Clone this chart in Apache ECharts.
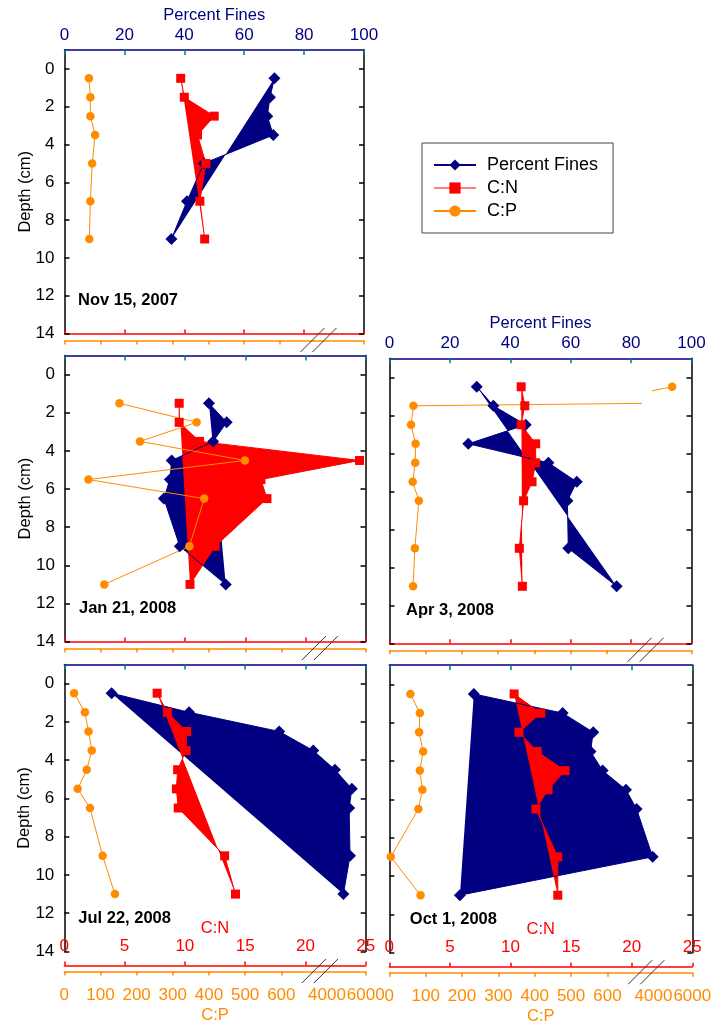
<!DOCTYPE html>
<html>
<head>
<meta charset="utf-8">
<title>Depth profiles: Percent Fines, C:N, C:P</title>
<script src="https://cdn.jsdelivr.net/npm/echarts@6/dist/echarts.min.js"></script>
<style>
  html, body { margin: 0; padding: 0; background: #fff; }
  #chart { width: 713px; height: 1026px; }
</style>
</head>
<body>
<div id="chart"></div>
<script>
// sample depths (cm)
const depthNov = [0.5, 1.5, 2.5, 3.5, 5, 7, 9];
const depthJan = [1.5, 2.5, 3.5, 4.5, 5.5, 6.5, 9, 11];
const depthStd = [0.5, 1.5, 2.5, 3.5, 4.5, 5.5, 6.5, 9, 11];

// Nov 15, 2007
const finesNov = [70.1, 68.6, 67.7, 69.7, 46.5, 40.9, 35.7];
const cnNov = [9.7, 10.0, 12.5, 11.1, 11.8, 11.3, 11.7];
const cpNov = [68, 72, 72, 85, 77, 72, 69];

// Jan 21, 2008
const finesJan = [47.9, 53.8, 49.3, 35.5, 34.9, 32.9, 38.2, 53.5];
const cnJan = [9.5, 9.5, 11.2, 24.5, 16.3, 16.8, 12.5, 10.4];
const cpJan = [151, 365, 208, 499, 65, 386, 345, 109];

// Apr 3, 2008
const finesApr = [28.9, 34.4, 45.1, 26.1, 52.6, 62.0, 58.9, 59.2, 75.2];
const cnApr = [10.9, 11.2, 10.9, 12.1, 12.1, 11.8, 11.1, 10.75, 11.0];
const cpApr = [5000, 66, 59.5, 72, 71, 64, 81, 70, 65];

// Jul 22, 2008
const finesJul = [15.7, 41.4, 71.3, 82.6, 89.8, 95.4, 94.5, 94.8, 92.6];
const cnJul = [7.7, 8.55, 10.15, 10.1, 9.4, 9.3, 9.45, 13.3, 14.2];
const cpJul = [27, 57, 67, 76, 62, 37, 71, 106, 140];

// Oct 1, 2008
const finesOct = [27.9, 57.2, 67.3, 66.4, 70.4, 78.1, 81.6, 86.9, 23.3];
const cnOct = [10.3, 12.5, 10.7, 12.2, 14.5, 13.1, 12.1, 13.9, 13.9];
const cpOct = [58, 84, 82, 93, 84, 91, 80, 4, 86];

// tick values
const depthTicks = [0, 2, 4, 6, 8, 10, 12, 14];
const cpLowTicks = [0, 100, 200, 300, 400, 500, 600];
const cpHighLabels = [4000, 6000];
const cpHighTicks = [6000];

const NAVY = '#000080';
const RED = '#ff0000';
const ORANGE = '#ff8c00';
const TEAL = '#008080';
const FONT = 'Liberation Sans, Arial, sans-serif';

// C:P axis is broken: 0..CP_LOW_MAX on the left part, 4000..6000 on the right part
const CP_LOW_MAX = 694;
const CP_LOW_FRAC = 0.0012 * CP_LOW_MAX; // 100 units = 12% of panel width
const CP_HIGH_START = 0.8717;

const panels = [
  { label: 'Nov 15, 2007', depth: depthNov, fines: finesNov, cn: cnNov, cp: cpNov,
    box: [64.5, 50, 299.5, 283.5], labelX: 13.5, top: true, left: true, bottom: false },
  { label: 'Jan 21, 2008', depth: depthJan, fines: finesJan, cn: cnJan, cp: cpJan,
    box: [65, 355.6, 300.5, 286], labelX: 14, top: false, left: true, bottom: false },
  { label: 'Apr 3, 2008', depth: depthStd, fines: finesApr, cn: cnApr, cp: cpApr,
    box: [389.5, 358.3, 302, 285], labelX: 16.5, top: true, left: false, bottom: false },
  { label: 'Jul 22, 2008', depth: depthStd, fines: finesJul, cn: cnJul, cp: cpJul,
    box: [64.3, 664.5, 301.4, 287], labelX: 14, top: false, left: true, bottom: true },
  { label: 'Oct 1, 2008', depth: depthStd, fines: finesOct, cn: cnOct, cp: cpOct,
    box: [389.3, 665.2, 303, 287.5], labelX: 20.5, top: false, left: false, bottom: true },
];

const grids = [];
const xAxes = [];
const yAxes = [];
const series = [];
const graphics = [];

const plainNumber = (v) => String(v);

function polygonSeries(name, xi, yi, pts, color) {
  return {
    type: 'custom',
    name,
    xAxisIndex: xi,
    yAxisIndex: yi,
    data: pts,
    silent: true,
    renderItem(params, api) {
      if (params.dataIndex !== 0) return null;
      return {
        type: 'polygon',
        shape: { points: pts.map((pt) => api.coord(pt)) },
        style: { fill: color },
      };
    },
  };
}

function lineSeries(name, xi, yi, pts, color, symbol, size) {
  return {
    type: 'line',
    name,
    xAxisIndex: xi,
    yAxisIndex: yi,
    data: pts,
    symbol,
    symbolSize: size,
    showAllSymbol: true,
    clip: true,
    silent: true,
    lineStyle: { color, width: 1 },
    itemStyle: { color },
  };
}

panels.forEach((p) => {
  const [left, top, w, h] = p.box;
  const g = grids.length;
  const redOff = p.bottom ? 14 : 0;
  const orangeOff = p.bottom ? 20 : 7;

  grids.push({ left, top, width: w, height: h, outerBoundsMode: 'none' });
  grids.push({ left, top, width: w * CP_LOW_FRAC, height: h, outerBoundsMode: 'none' });
  grids.push({ left: left + w * CP_HIGH_START, top, width: w * (1 - CP_HIGH_START), height: h, outerBoundsMode: 'none' });

  // depth axes
  const y0 = yAxes.length;
  const yBase = { type: 'value', min: -1, max: 14, inverse: true, splitLine: { show: false } };
  const blackLine = { show: true, onZero: false, lineStyle: { color: '#000', width: 1.5 } };
  const blackTicks = { show: true, inside: true, length: 5, customValues: depthTicks, lineStyle: { color: '#000', width: 1.5 } };
  yAxes.push({
    ...yBase,
    gridIndex: g,
    position: 'left',
    axisLine: blackLine,
    axisTick: blackTicks,
    axisLabel: { show: p.left, customValues: depthTicks, fontSize: 17, color: '#000', margin: 10 },
    name: p.left ? 'Depth (cm)' : '',
    nameLocation: 'middle',
    nameRotate: 90,
    nameGap: 31,
    nameMoveOverlap: false,
    nameTextStyle: { fontSize: 16.5, color: '#000' },
  });
  yAxes.push({
    ...yBase,
    gridIndex: g,
    position: 'right',
    axisLine: blackLine,
    axisTick: blackTicks,
    axisLabel: { show: false },
  });
  yAxes.push({ ...yBase, gridIndex: g + 1, show: false });
  yAxes.push({ ...yBase, gridIndex: g + 2, show: false });

  // Percent Fines (top)
  const xPF = xAxes.length;
  xAxes.push({
    type: 'value',
    gridIndex: g,
    position: 'top',
    min: 0,
    max: 100,
    interval: 20,
    splitLine: { show: false },
    axisLine: { show: true, onZero: false, lineStyle: { color: NAVY, width: 1.5 } },
    axisTick: { show: true, inside: true, length: 5, lineStyle: { color: TEAL, width: 1.5 } },
    axisLabel: { show: p.top, color: NAVY, fontSize: 17, margin: 6 },
    name: p.top ? 'Percent Fines' : '',
    nameLocation: 'middle',
    nameGap: 26,
    nameMoveOverlap: false,
    nameTextStyle: { color: NAVY, fontSize: 16.5 },
  });
  // C:N (bottom)
  const xCN = xAxes.length;
  xAxes.push({
    type: 'value',
    gridIndex: g,
    position: 'bottom',
    offset: redOff,
    min: 0,
    max: 25,
    interval: 5,
    splitLine: { show: false },
    axisLine: { show: true, onZero: false, lineStyle: { color: RED, width: 1.5 } },
    axisTick: { show: true, inside: true, length: 4, lineStyle: { color: RED, width: 1.5 } },
    axisLabel: { show: p.bottom, inside: true, color: RED, fontSize: 17, margin: 10.5 },
    name: p.bottom ? 'C:N' : '',
    nameLocation: 'middle',
    nameGap: -46,
    nameMoveOverlap: false,
    nameTextStyle: { color: RED, fontSize: 16.5 },
  });
  // C:P axis line (full width) + name
  xAxes.push({
    type: 'value',
    gridIndex: g,
    position: 'bottom',
    offset: orangeOff,
    min: 0,
    max: 1,
    splitLine: { show: false },
    axisLine: { show: true, onZero: false, lineStyle: { color: ORANGE, width: 1.5 } },
    axisTick: { show: false },
    axisLabel: { show: false },
    name: p.bottom ? 'C:P' : '',
    nameLocation: 'middle',
    nameGap: 35,
    nameMoveOverlap: false,
    nameTextStyle: { color: ORANGE, fontSize: 16.5 },
  });
  // C:P low segment
  const xCPlo = xAxes.length;
  xAxes.push({
    type: 'value',
    gridIndex: g + 1,
    position: 'bottom',
    offset: orangeOff,
    min: 0,
    max: CP_LOW_MAX,
    splitLine: { show: false },
    axisLine: { show: false, onZero: false },
    axisTick: { show: true, length: 4, customValues: cpLowTicks, lineStyle: { color: ORANGE, width: 1.5 } },
    axisLabel: { show: p.bottom, customValues: cpLowTicks, formatter: plainNumber, color: ORANGE, fontSize: 17, margin: 15 },
  });
  // C:P high segment
  const xCPhi = xAxes.length;
  xAxes.push({
    type: 'value',
    gridIndex: g + 2,
    position: 'bottom',
    offset: orangeOff,
    min: 4000,
    max: 6000,
    splitLine: { show: false },
    axisLine: { show: false, onZero: false },
    axisTick: { show: true, length: 4, customValues: cpHighTicks, lineStyle: { color: ORANGE, width: 1.5 } },
    axisLabel: {
      show: p.bottom, customValues: cpHighLabels, formatter: plainNumber,
      showMinLabel: true, showMaxLabel: true, hideOverlap: false,
      color: ORANGE, fontSize: 17, margin: 15,
    },
  });

  const finesPts = p.depth.map((d, i) => [p.fines[i], d]);
  const cnPts = p.depth.map((d, i) => [p.cn[i], d]);
  const cpPts = p.depth.map((d, i) => [p.cp[i], d]);

  series.push(polygonSeries('fines-area', xPF, y0, finesPts, NAVY));
  series.push(lineSeries('Percent Fines', xPF, y0, finesPts, NAVY, 'diamond', 12));
  series.push(polygonSeries('cn-area', xCN, y0, cnPts, RED));
  series.push(lineSeries('C:N', xCN, y0, cnPts, RED, 'rect', 9));
  series.push(lineSeries('C:P', xCPlo, y0 + 2, cpPts, ORANGE, 'circle', 8.5));
  series.push(lineSeries('C:P', xCPhi, y0 + 3, cpPts, ORANGE, 'circle', 8.5));

  // date label
  graphics.push({
    type: 'text',
    x: left + p.labelX,
    y: top + h * (13.25 / 15),
    silent: true,
    style: { text: p.label, fill: '#000', font: 'bold 16.5px ' + FONT, align: 'left', verticalAlign: 'middle' },
  });
  // axis break marks
  const oy = top + h + orangeOff;
  [0.828, 0.868].forEach((f) => {
    const cx = left + f * w;
    graphics.push({
      type: 'line',
      silent: true,
      z: 100,
      shape: { x1: cx - 12, y1: oy + 11.5, x2: cx + 12, y2: oy - 12.5 },
      style: { stroke: '#333', lineWidth: 1 },
    });
  });
});

const chart = echarts.init(document.getElementById('chart'), null, { renderer: 'canvas' });
chart.setOption({
  animation: false,
  backgroundColor: '#fff',
  textStyle: { fontFamily: FONT },
  legend: {
    orient: 'vertical',
    left: 422,
    top: 143,
    borderColor: '#444',
    borderWidth: 1,
    padding: [13, 15, 13, 11],
    itemWidth: 42,
    itemHeight: 14,
    itemGap: 5,
    selectedMode: false,
    textStyle: { fontSize: 18, color: '#000', padding: [0, 0, 0, 6] },
    data: [
      { name: 'Percent Fines' },
      { name: 'C:N', lineStyle: { color: '#ff7f7f' } },
      { name: 'C:P' },
    ],
  },
  grid: grids,
  xAxis: xAxes,
  yAxis: yAxes,
  series,
  graphic: graphics,
});
</script>
</body>
</html>
